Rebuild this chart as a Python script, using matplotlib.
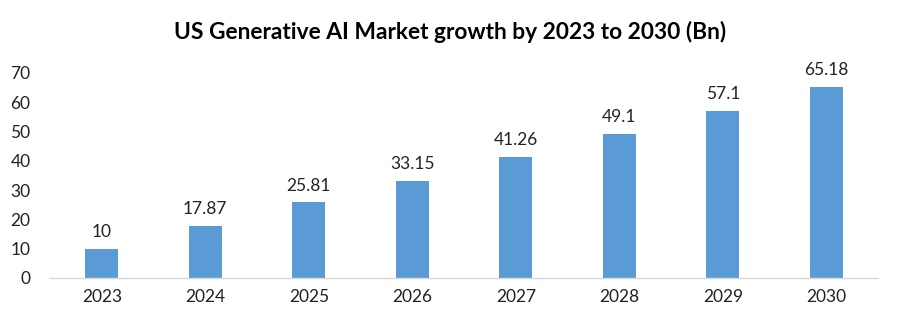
import matplotlib
matplotlib.use("Agg")
import matplotlib.pyplot as plt

years = ["2023", "2024", "2025", "2026", "2027", "2028", "2029", "2030"]
values = [10, 17.87, 25.81, 33.15, 41.26, 49.1, 57.1, 65.18]
labels = ["10", "17.87", "25.81", "33.15", "41.26", "49.1", "57.1", "65.18"]
yticks = [0, 10, 20, 30, 40, 50, 60, 70]

plt.rcParams['font.family'] = ['Lato', 'DejaVu Sans']

fig = plt.figure(figsize=(9, 3.27), dpi=100)
ax = fig.add_axes([0.0556, 0.15, 0.92, 0.627])
x = list(range(len(years)))
bars = ax.bar(x, values, width=0.32, color="#5B9BD5", zorder=2)
for xi, v, lab in zip(x, values, labels):
    ax.text(xi, v + 3, lab, ha="center", va="bottom", fontsize=12.5, color="#222222")

ax.set_xlim(-0.5, 7.5)
ax.set_ylim(0, 70)
ax.set_yticks(yticks)
ax.set_xticks(x)
ax.set_xticklabels(years)
ax.tick_params(axis="both", length=0, labelsize=12.5, colors="#222222")
ax.tick_params(axis="y", pad=14)
ax.tick_params(axis="x", pad=8)
for s in ["top", "right", "left"]:
    ax.spines[s].set_visible(False)
ax.spines["bottom"].set_color("#D9D9D9")
ax.spines["bottom"].set_linewidth(1)

fig.text(0.5, 0.902, "US Generative AI Market growth by 2023 to 2030 (Bn)",
         ha="center", va="center", fontsize=16.4, fontweight="bold", color="#000000")

fig.savefig("out.png", dpi=100, facecolor="white")
